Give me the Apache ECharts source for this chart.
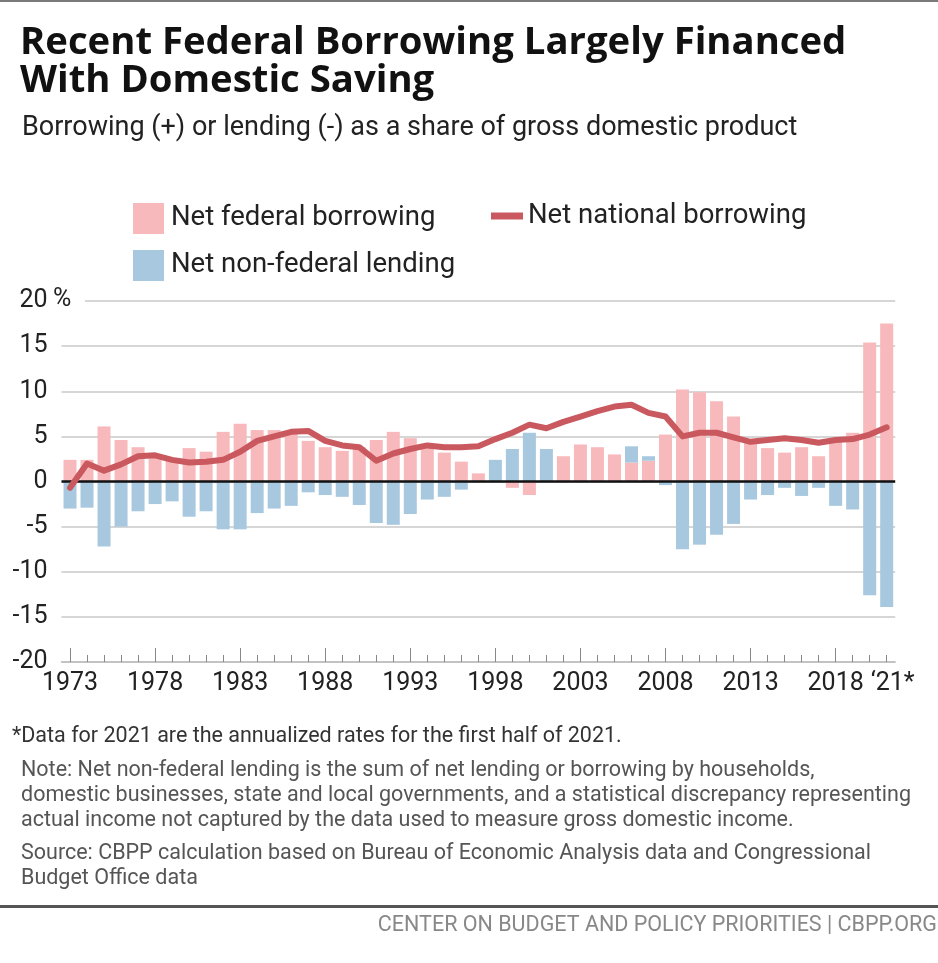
<!DOCTYPE html>
<html>
<head>
<meta charset="utf-8">
<script src="https://cdn.jsdelivr.net/npm/echarts@6/dist/echarts.min.js"></script>
<style>
  html, body { margin: 0; padding: 0; background: #fff; }
  #chart { width: 938px; height: 963px; }
</style>
</head>
<body>
<div id="chart"></div>
<script>
const years = ['1973','1974','1975','1976','1977','1978','1979','1980','1981','1982',
  '1983','1984','1985','1986','1987','1988','1989','1990','1991','1992',
  '1993','1994','1995','1996','1997','1998','1999','2000','2001','2002',
  '2003','2004','2005','2006','2007','2008','2009','2010','2011','2012',
  '2013','2014','2015','2016','2017','2018','2019','2020','\u201821*'];

const netFederalBorrowing = [2.4,2.4,6.1,4.6,3.8,2.9,2.3,3.7,3.3,5.5,
  6.4,5.7,5.7,5.4,4.5,3.8,3.4,3.8,4.6,5.5,
  4.8,3.9,3.2,2.2,0.9,0,-0.7,-1.5,0,2.8,
  4.1,3.8,3.0,2.1,2.3,5.2,10.2,9.9,8.9,7.2,
  4.5,3.7,3.2,3.8,2.8,4.6,5.4,15.4,17.5];

const netNonFederalLending = [-3.0,-2.9,-7.2,-5.0,-3.3,-2.5,-2.2,-3.9,-3.3,-5.3,
  -5.3,-3.5,-3.0,-2.7,-1.2,-1.5,-1.7,-2.6,-4.6,-4.8,
  -3.6,-2.0,-1.7,-0.9,0,2.4,3.6,5.4,3.6,0,
  0,0,0,1.8,0.5,-0.4,-7.5,-7.0,-5.9,-4.7,
  -2.0,-1.5,-0.7,-1.6,-0.7,-2.7,-3.1,-12.6,-13.9];

const netNationalBorrowing = [-0.7,2.0,1.2,1.9,2.8,2.9,2.4,2.1,2.2,2.4,
  3.3,4.5,5.0,5.5,5.6,4.5,4.0,3.8,2.3,3.1,
  3.6,4.0,3.8,3.8,3.9,4.7,5.4,6.3,5.9,6.6,
  7.2,7.8,8.3,8.5,7.6,7.2,5.0,5.4,5.4,4.9,
  4.4,4.6,4.8,4.6,4.3,4.6,4.7,5.2,6.0];

const yTicks = { min: -20, max: 20, interval: 5 };

const FONT = 'Roboto, "Liberation Sans", sans-serif';
const TITLE_FONT = '"Open Sans", Roboto, sans-serif';
const PINK = '#f7b9bb', BLUE = '#a8c8e0', RED = '#c9595f';

const chart = echarts.init(document.getElementById('chart'), null, { renderer: 'canvas' });

const noteStyle = { fontFamily: FONT, fontSize: 21.5, fill: '#555' };

chart.setOption({
  backgroundColor: '#fff',
  animation: false,
  textStyle: { fontFamily: FONT },
  grid: { left: 61.5, right: 42.8, top: 301, bottom: 301, containLabel: false },
  legend: [
    { data: [{ name: 'Net federal borrowing', icon: 'rect' }], left: 128, top: 198, itemWidth: 31, itemHeight: 31,
      textStyle: { fontSize: 27.5, color: '#222', fontFamily: FONT, padding: [0,0,0,2] }, selectedMode: false },
    { data: [{ name: 'Net national borrowing', icon: 'rect' }], left: 486, top: 197, itemWidth: 32, itemHeight: 7,
      textStyle: { fontSize: 27.5, color: '#222', fontFamily: FONT, padding: [0,0,0,0] }, selectedMode: false },
    { data: [{ name: 'Net non-federal lending', icon: 'rect' }], left: 128, top: 245, itemWidth: 31, itemHeight: 31,
      textStyle: { fontSize: 27.5, color: '#222', fontFamily: FONT, padding: [0,0,0,2] }, selectedMode: false }
  ],
  xAxis: [
    { type: 'category', data: years, boundaryGap: true, position: 'bottom',
      axisLine: { onZero: false, lineStyle: { color: '#bdbdbd', width: 1.5 } },
      axisTick: { show: true, inside: true, length: 7, alignWithLabel: true, interval: 0, lineStyle: { color: '#888', width: 1 } },
      axisLabel: { show: false }, splitLine: { show: false } },
    { type: 'category', data: years, boundaryGap: true, position: 'bottom',
      axisLine: { show: false, onZero: false },
      axisTick: { show: true, inside: true, length: 14, alignWithLabel: true,
        interval: function (i) { return i % 5 === 0; }, lineStyle: { color: '#888', width: 1 } },
      axisLabel: { show: true, fontSize: 25, color: '#222', fontFamily: FONT, margin: 9,
        interval: function (i) { return i % 5 === 0 || i === years.length - 1; },
        formatter: function (v, i) { return i === years.length - 1 ? '{last|' + v + '}' : v; },
        rich: { last: { fontSize: 25, color: '#222', fontFamily: FONT, padding: [0, 0, 0, 12] } } },
      splitLine: { show: false } }
  ],
  yAxis: {
    type: 'value', min: yTicks.min, max: yTicks.max, interval: yTicks.interval,
    axisLine: { show: false }, axisTick: { show: false },
    axisLabel: { fontSize: 25, color: '#222', fontFamily: FONT, margin: 14 },
    splitLine: { lineStyle: { color: '#c8c8c8', width: 1.5 } }
  },
  series: [
    { name: 'Net federal borrowing', type: 'bar', stack: 'total', xAxisIndex: 0,
      data: netFederalBorrowing, barWidth: 13, itemStyle: { color: PINK }, z: 2,
      markLine: { silent: true, symbol: 'none', label: { show: false },
        lineStyle: { color: '#111', width: 2.5, type: 'solid' }, data: [{ yAxis: 0 }], z: 5 } },
    { name: 'Net non-federal lending', type: 'bar', stack: 'total', xAxisIndex: 0,
      data: netNonFederalLending, barWidth: 13, itemStyle: { color: BLUE }, z: 2 },
    { name: 'Net national borrowing', type: 'line', xAxisIndex: 0, data: netNationalBorrowing,
      symbol: 'none', lineStyle: { color: RED, width: 6, join: 'round', cap: 'round' },
      itemStyle: { color: RED }, z: 6 }
  ],
  graphic: [
    { type: 'rect', left: 0, top: 0, shape: { width: 938, height: 2 }, style: { fill: '#7a7a7a' } },
    { type: 'text', left: 20, top: 24, style: { text: 'Recent Federal Borrowing Largely Financed', fontFamily: TITLE_FONT, fontWeight: 'bold', fontSize: 38.3, fill: '#111' } },
    { type: 'text', left: 20, top: 62, style: { text: 'With Domestic Saving', fontFamily: TITLE_FONT, fontWeight: 'bold', fontSize: 38.3, fill: '#111' } },
    { type: 'text', left: 22, top: 115, style: { text: 'Borrowing (+) or lending (-) as a share of gross domestic product', fontFamily: FONT, fontSize: 27, fill: '#222' } },
    { type: 'rect', left: 61, top: 299, shape: { width: 24, height: 5 }, style: { fill: '#fff' }, z: 10 },
    { type: 'text', left: 53, top: 287, style: { text: '%', fontFamily: FONT, fontSize: 25, fill: '#222' }, z: 11 },
    { type: 'text', left: 12, top: 726, style: { text: '*Data for 2021 are the annualized rates for the first half of 2021.', fontFamily: FONT, fontSize: 21.5, fill: '#333' } },
    { type: 'text', left: 21, top: 760, style: Object.assign({ text: 'Note: Net non-federal lending is the sum of net lending or borrowing by households,' }, noteStyle) },
    { type: 'text', left: 21, top: 785, style: Object.assign({ text: 'domestic businesses, state and local governments, and a statistical discrepancy representing' }, noteStyle) },
    { type: 'text', left: 21, top: 810, style: Object.assign({ text: 'actual income not captured by the data used to measure gross domestic income.' }, noteStyle) },
    { type: 'text', left: 21, top: 843, style: Object.assign({ text: 'Source: CBPP calculation based on Bureau of Economic Analysis data and Congressional' }, noteStyle) },
    { type: 'text', left: 21, top: 868, style: Object.assign({ text: 'Budget Office data' }, noteStyle) },
    { type: 'rect', left: 0, top: 905, shape: { width: 938, height: 3 }, style: { fill: '#555' } },
    { type: 'text', right: 1, top: 915, style: { text: 'CENTER ON BUDGET AND POLICY PRIORITIES | CBPP.ORG', fontFamily: FONT, fontSize: 21.5, fill: '#888' } }
  ]
});
</script>
</body>
</html>
